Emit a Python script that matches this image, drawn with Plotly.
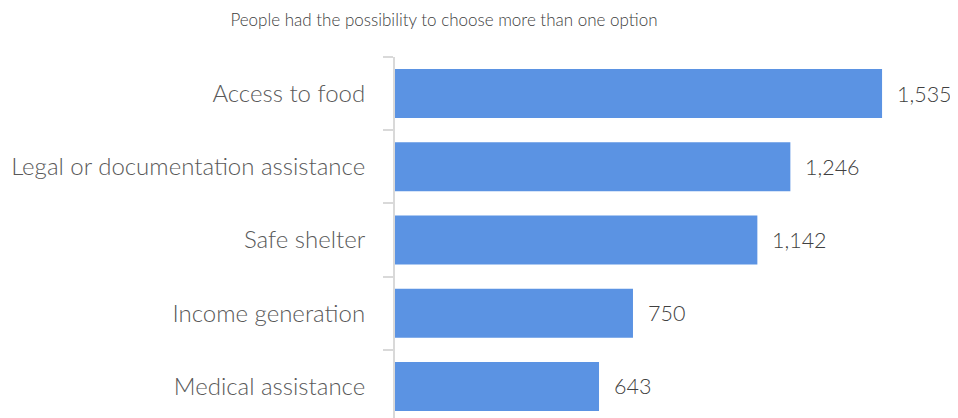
import plotly.graph_objects as go

categories = ["Access to food", "Legal or documentation assistance", "Safe shelter",
              "Income generation", "Medical assistance"]
values = [1535, 1246, 1142, 750, 643]
value_labels = ["1,535", "1,246", "1,142", "750", "643"]
title_text = "People had the possibility to choose more than one option"

FONT = "Lato Light, Lato, sans-serif"

fig = go.Figure()
fig.add_trace(go.Bar(
    x=values, y=categories, orientation="h",
    marker=dict(color="#5B93E3", line=dict(width=0)),
    hoverinfo="skip",
))

for c, v, t in zip(categories, values, value_labels):
    fig.add_annotation(x=v, y=c, text=t, showarrow=False, xanchor="left",
                       xshift=13, font=dict(family=FONT, size=21.5, color="#404040"))

fig.update_layout(
    width=950, height=410,
    margin=dict(l=387, r=0, t=49, b=0),
    paper_bgcolor="white", plot_bgcolor="white",
    bargap=0.33,
    showlegend=False,
    title=dict(text=title_text, x=436/950, xanchor="center", y=1-12/410, yanchor="middle",
               font=dict(family=FONT, size=17, color="#404040")),
    xaxis=dict(range=[0, 563/0.3173], visible=False, fixedrange=True),
    yaxis=dict(
        type="category", categoryorder="array", categoryarray=categories,
        range=[-0.5 + 361/73.2, -0.5],
        showline=True, linecolor="#D9D9D9", linewidth=2,
        ticks="outside", tickson="boundaries", ticklen=10, tickcolor="#D9D9D9", tickwidth=2,
        ticklabelstandoff=23,
        tickfont=dict(family=FONT, size=24, color="#595959"),
        showgrid=False, zeroline=False,
    ),
)

fig.write_html("out.html")
